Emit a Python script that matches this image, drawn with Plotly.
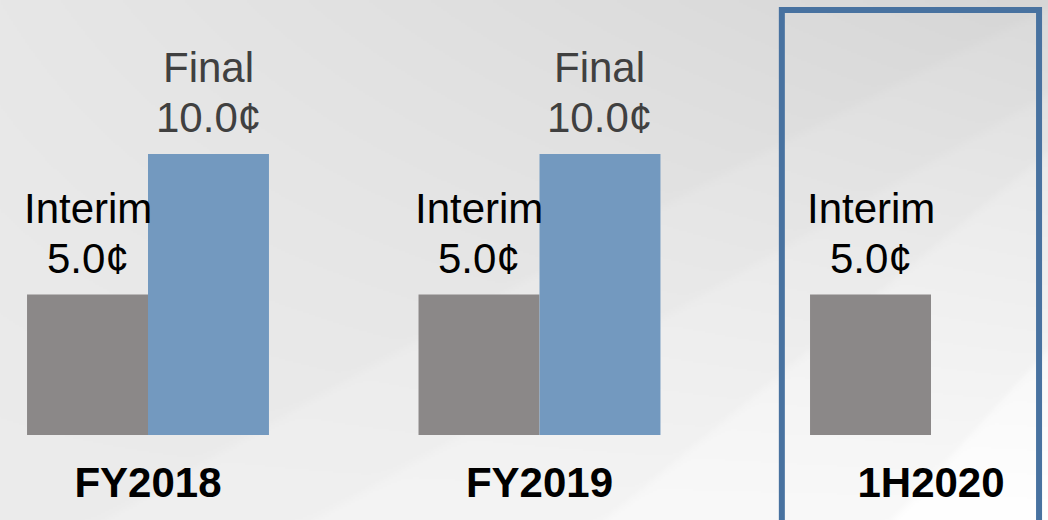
import base64
import struct
import zlib

import numpy as np
import plotly.graph_objects as go

# ---------------- data ----------------
categories = ["FY2018", "FY2019", "1H2020"]
interim_values = [5.0, 5.0, 5.0]
final_values = [10.0, 10.0, None]
interim_label = "Interim"
final_label = "Final"
highlight_category = "1H2020"

# ---------------- figure size ----------------
W, H = 1048, 520
M_L, M_R, M_T, M_B = 0, 0, 0, 85


# ---------------- background image (decorative) ----------------
def make_background(w, h):
    ys, xs = np.mgrid[0:h, 0:w].astype(float)
    X = xs * (W / w)
    Y = ys * (H / h)
    base = 231 + 5 * (Y / H) - 17 * (X / W) * (1 - Y / H)

    def band(curve, step, soft=2.5):
        return step / (1 + np.exp(-(Y - curve) / soft))

    c1 = 580 - 0.6 * X + 0.00005 * X ** 2
    c2 = 700 - 0.58 * X
    c3 = 1020 - 0.83 * X
    c4 = 1500 - 1.1 * X
    img = base + band(c1, 4) + band(c2, 4) + band(c3, 5) + band(c4, 6)
    return np.clip(img, 0, 255).astype(np.uint8)


def png_data_uri(arr):
    h, w = arr.shape
    raw = b"".join(b"\x00" + arr[i].tobytes() for i in range(h))

    def chunk(tag, data):
        c = struct.pack(">I", len(data)) + tag + data
        return c + struct.pack(">I", zlib.crc32(tag + data) & 0xFFFFFFFF)

    png = b"\x89PNG\r\n\x1a\n"
    png += chunk(b"IHDR", struct.pack(">IIBBBBB", w, h, 8, 0, 0, 0, 0))
    png += chunk(b"IDAT", zlib.compress(raw, 9))
    png += chunk(b"IEND", b"")
    return "data:image/png;base64," + base64.b64encode(png).decode()


bg_uri = png_data_uri(make_background(W // 2, H // 2))

# ---------------- style ----------------
FONT = "Liberation Sans, Arial, sans-serif"
LABEL_SIZE = 42
BARGAP = 0.382
VALUE_SHIFT = 11      # px gap between bar top and value line box
LINE_STEP = 50        # px between the two label lines

# ---------------- traces ----------------
fig = go.Figure()
fig.add_trace(
    go.Bar(
        name=interim_label,
        x=categories,
        y=interim_values,
        marker=dict(color="#8b8888", line=dict(width=0)),
        hoverinfo="skip",
    )
)
fig.add_trace(
    go.Bar(
        name=final_label,
        x=categories,
        y=final_values,
        marker=dict(color="#7399bf", line=dict(width=0)),
        hoverinfo="skip",
    )
)

# value labels, centred over each bar of the group
bar_w = (1 - BARGAP) / 2
annotations = []
for i, cat in enumerate(categories):
    for val, lab, side, col in (
        (interim_values[i], interim_label, -1, "#000000"),
        (final_values[i], final_label, 1, "#404040"),
    ):
        if val is None:
            continue
        for txt, shift in ((f"{val:.1f}¢", VALUE_SHIFT), (lab, VALUE_SHIFT + LINE_STEP)):
            annotations.append(
                dict(
                    xref="x",
                    yref="y",
                    x=i + side * bar_w / 2,
                    y=val,
                    text=txt,
                    showarrow=False,
                    xanchor="center",
                    yanchor="bottom",
                    yshift=shift,
                    font=dict(family=FONT, size=LABEL_SIZE, color=col),
                )
            )

# ---------------- layout ----------------
plot_h = H - M_T - M_B
px_per_unit_y = 28.1
px_per_cat = 391.5
first_cat_px = 148

x_range = [-first_cat_px / px_per_cat, (W - first_cat_px) / px_per_cat]
y_range = [0, plot_h / px_per_unit_y]

hi = categories.index(highlight_category)

fig.update_layout(
    width=W,
    height=H,
    margin=dict(l=M_L, r=M_R, t=M_T, b=M_B, pad=0),
    barmode="group",
    bargap=BARGAP,
    bargroupgap=0,
    showlegend=False,
    paper_bgcolor="#e6e6e6",
    plot_bgcolor="rgba(0,0,0,0)",
    font=dict(family=FONT),
    annotations=annotations,
    xaxis=dict(
        range=x_range,
        showgrid=False,
        zeroline=False,
        showline=False,
        ticks="",
        tickmode="array",
        tickvals=categories,
        ticktext=[f"<b>{c}</b>" for c in categories],
        tickfont=dict(family=FONT, size=42, color="#000000"),
        ticklabelstandoff=19,
        fixedrange=True,
    ),
    yaxis=dict(
        range=y_range,
        visible=False,
        showgrid=False,
        zeroline=False,
        fixedrange=True,
    ),
    images=[
        dict(
            source=bg_uri,
            xref="paper",
            yref="paper",
            x=0,
            y=1 + M_T / plot_h,
            sizex=1,
            sizey=H / plot_h,
            sizing="stretch",
            xanchor="left",
            yanchor="top",
            layer="below",
        )
    ],
    shapes=[
        dict(
            type="rect",
            xref="x",
            yref="paper",
            x0=hi - 0.381,
            x1=hi + 0.276,
            y0=-0.4,
            y1=1 - 10 / plot_h,
            line=dict(color="#4872a0", width=6),
            fillcolor="rgba(0,0,0,0)",
            layer="above",
        )
    ],
)

fig.write_html(
    "out.html",
    config={"displayModeBar": False},
    post_script="document.body.style.margin='0';document.body.style.overflow='hidden';",
)
